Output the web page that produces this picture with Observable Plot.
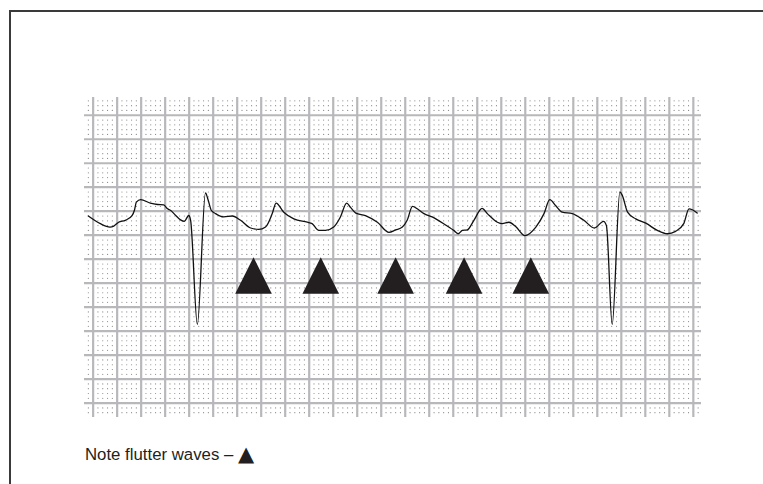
<!DOCTYPE html>
<html>
<head>
<meta charset="utf-8">
<script src="https://cdn.jsdelivr.net/npm/d3@7"></script>
<script src="https://cdn.jsdelivr.net/npm/@observablehq/plot@0.6"></script>
<style>
  html, body { margin: 0; padding: 0; background: #fff; }
  #wrap { position: relative; width: 763px; height: 484px; overflow: hidden; }
  #frame { position: absolute; left: 9px; top: 10px; right: -5px; bottom: -5px;
           border-top: 2px solid #3a3a3a; border-left: 2px solid #3a3a3a; }
  #chart { position: absolute; left: 0; top: 0; }
  #caption { position: absolute; left: 85px; top: 444px; font-family: "Liberation Sans", Arial, sans-serif;
             font-size: 16.8px; color: #231f20; line-height: 20px; white-space: nowrap; }
  #caption .tri { font-family: "DejaVu Sans", sans-serif; font-size: 21px; line-height: 20px; vertical-align: -1px; }
</style>
</head>
<body>
<div id="wrap">
  <div id="frame"></div>
  <div id="chart"></div>
  <div id="caption">Note flutter waves – <span class="tri">▲</span></div>
</div>
<script>
// ECG trace: time axis in mm of paper (25 mm/s), amplitude in mm (10 mm/mV)
const traceX = [-1.0, 1.5, 3.5, 4.3, 5.3, 6.7, 8.1, 8.6, 9.0, 9.9, 11.9, 13.4, 14.7, 15.5, 16.1, 17.2, 18.2, 19.0, 19.9, 20.3,
  21.7, 23.4, 23.9, 24.6, 25.5, 27.2, 29.0, 30.7, 32.8, 34.5, 35.9, 37.3, 38.1, 39.7, 41.8, 44.6, 45.6, 47.0, 48.4, 50.1,
  51.5, 52.8, 53.6, 54.7, 56.7, 59.2, 61.6, 63.0, 64.4, 65.4, 66.5, 67.5, 68.9, 70.6, 73.0, 75.1, 76.0, 76.9, 77.9, 79.3,
  81.0, 82.1, 84.2, 85.2, 86.6, 88.0, 89.9, 92.2, 93.9, 95.1, 96.3, 97.7, 99.8, 102.2, 104.4, 106.3, 106.9, 108.1, 109.7, 110.2,
  111.3, 113.0, 115.1, 117.5, 119.6, 121.3, 123.0, 124.1, 124.8, 125.8];
const traceY = [39.0, 37.4, 36.7, 36.9, 37.7, 38.1, 39.1, 40.2, 41.9, 42.4, 41.7, 41.4, 41.3, 40.5, 40.2, 39.1, 38.2, 37.9, 39.1, 38.1,
  16.4, 43.8, 42.5, 40.2, 39.5, 38.8, 39.0, 38.1, 36.5, 36.2, 36.7, 39.5, 41.7, 39.8, 38.4, 37.7, 37.4, 36.0, 36.0, 36.7,
  38.8, 41.7, 40.8, 39.6, 39.1, 37.7, 35.6, 36.1, 36.7, 38.1, 41.0, 40.5, 39.5, 38.8, 37.4, 36.0, 35.3, 36.0, 36.1, 38.1,
  40.6, 39.5, 37.7, 37.4, 37.7, 36.8, 34.9, 36.7, 39.5, 42.4, 41.2, 39.8, 39.5, 38.1, 36.5, 37.9, 37.0, 16.4, 44.0, 43.3,
  39.8, 38.4, 37.5, 36.0, 35.3, 35.8, 37.4, 40.5, 40.3, 39.6];
// flutter-wave markers (centres, mm)
const markerX = [33.4, 47.4, 63.0, 77.25, 91.15];
const markerY = [26.6, 26.6, 26.6, 26.6, 26.6];

const trace = traceX.map((x, i) => ({x, y: traceY[i]}));
const markers = markerX.map((x, i) => ({x, y: markerY[i]}));

const xDomain = [-1.8, 126.7];
const yDomain = [-3, 63.7];
const majorX = d3.range(0, 126, 5);
const majorY = d3.range(0, 61, 5);
const minor = [];
for (let gx = -1; gx <= 126; gx++) {
  if (gx % 5 === 0) continue;
  for (let gy = -2; gy <= 63; gy++) {
    if (gy % 5 === 0) continue;
    minor.push({x: gx, y: gy});
  }
}

// isosceles triangle symbol (width = height = 2r)
const tri = {
  draw(ctx, size) {
    const r = Math.sqrt(size / Math.PI);
    ctx.moveTo(0, -r);
    ctx.lineTo(r, r);
    ctx.lineTo(-r, r);
    ctx.closePath();
  }
};

const chart = Plot.plot({
  width: 763,
  height: 430,
  marginLeft: 84,
  marginRight: 62,
  marginTop: 97,
  marginBottom: 13,
  x: {domain: xDomain, axis: null},
  y: {domain: yDomain, axis: null},
  style: {background: "transparent"},
  marks: [
    Plot.rect([0], {x1: xDomain[0], x2: xDomain[1], y1: yDomain[0], y2: yDomain[1], fill: "white"}),
    Plot.dot(minor, {x: "x", y: "y", r: 0.6, fill: "#8a8a8a", stroke: null}),
    Plot.ruleX(majorX, {y1: yDomain[0], y2: yDomain[1], stroke: "#b8b8bc", strokeWidth: 2.2}),
    Plot.ruleY(majorY, {x1: xDomain[0], x2: xDomain[1], stroke: "#b8b8bc", strokeWidth: 2.2}),
    Plot.line(trace, {x: "x", y: "y", curve: "monotone-x", stroke: "#111", strokeWidth: 1.3}),
    Plot.dot(markers, {x: "x", y: "y", r: 18.3, symbol: tri, fill: "#231f20", stroke: null})
  ]
});
document.getElementById("chart").appendChild(chart);
</script>
</body>
</html>
